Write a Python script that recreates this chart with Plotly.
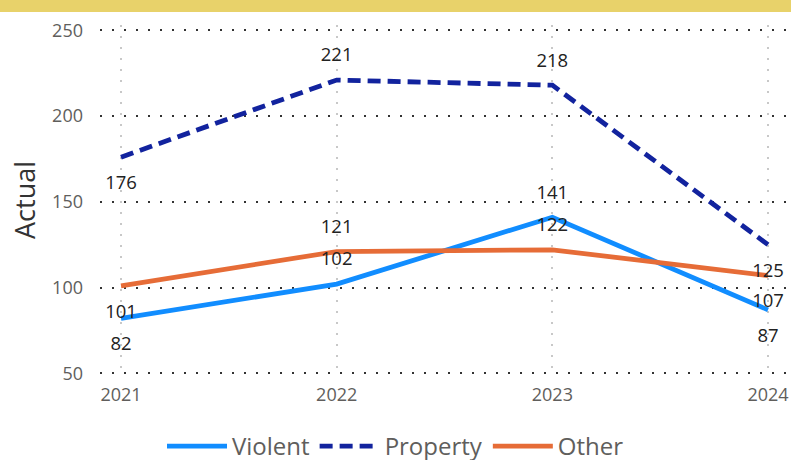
import plotly.graph_objects as go

# ---- data ----
years = ["2021", "2022", "2023", "2024"]
violent = [82, 102, 141, 87]
property_crime = [176, 221, 218, 125]
other = [101, 121, 122, 107]
series_names = ["Violent", "Property", "Other"]
y_ticks = [50, 100, 150, 200, 250]
title_text = "Actual by Category"
y_title = "Actual"

# ---- styles ----
colors = ["#118DFF", "#12239E", "#E66C37"]
dashes = ["solid", "13px,7px", "solid"]
label_pos = ["bottom center", "top center", "top center", "bottom center"]
size_for = {"top center": 20.8, "bottom center": 27.2}
FONT = "Open Sans, Segoe UI, sans-serif"

fig = go.Figure()
series = [violent, property_crime, other]
for name, vals, c, d in zip(series_names, series, colors, dashes):
    fig.add_trace(go.Scatter(
        x=years, y=vals, name=name, mode="lines",
        line=dict(color=c, width=4.8, dash=d),
        hoverinfo="x+y+name",
    ))
for name, vals in zip(series_names, series):
    fig.add_trace(go.Scatter(
        x=years, y=vals, mode="markers+text", showlegend=False,
        text=[str(v) for v in vals], textposition=label_pos,
        marker=dict(size=[size_for[p] for p in label_pos], opacity=0),
        textfont=dict(family=FONT, size=18.5, color="#222222"),
        hoverinfo="skip",
    ))

# yellow title bar (mostly cut off at the top)
fig.add_shape(type="rect", xref="paper", yref="paper",
              x0=-0.2, x1=1.05, y0=1 + 13 / 350, y1=1.2,
              fillcolor="#E8D26A", line=dict(width=0), layer="below")
fig.add_annotation(text=title_text, xref="paper", yref="paper",
                   x=(395.5 - 100) / 691, y=1 + 22 / 350,
                   xanchor="center", yanchor="bottom", showarrow=False,
                   font=dict(family=FONT, size=20, color="#222222"))

fig.update_layout(
    width=791, height=460,
    margin=dict(l=100, r=0, t=25, b=85),
    paper_bgcolor="white", plot_bgcolor="white",
    font=dict(family=FONT, color="#605E5C"),
    showlegend=True,
    legend=dict(orientation="h", xref="container", yref="container",
                x=0.5, xanchor="center", y=(460 - 424) / 460, yanchor="top",
                itemwidth=60,
                font=dict(size=24, color="#605E5C"), traceorder="normal"),
    xaxis=dict(type="category", range=[-0.0974, 3.1066],
               showgrid=True, gridcolor="#C8C8C8", griddash="2px,9px", gridwidth=1.5,
               zeroline=False, showline=False,
               tickfont=dict(size=18, color="#605E5C"), ticklabelstandoff=7),
    yaxis=dict(range=[49, 253.1], tickvals=y_ticks,
               showgrid=True, gridcolor="#333333", griddash="2px,10px", gridwidth=2,
               zeroline=False, showline=False,
               tickfont=dict(size=18, color="#605E5C"), ticklabelstandoff=16,
               title=dict(text=y_title, font=dict(size=27, color="#333333"), standoff=8)),
)

fig.write_html("out.html", config={"displayModeBar": False},
               post_script="document.body.style.margin='0';document.body.style.overflow='hidden';")
